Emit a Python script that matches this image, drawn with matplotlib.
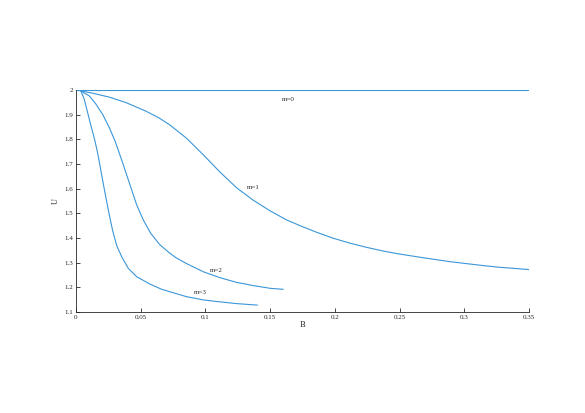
import matplotlib
matplotlib.use("Agg")
import matplotlib.pyplot as plt

# m=0 : plat
B0 = [0.0, 0.35]
U0 = [2.0, 2.0]

# m=1
B1 = [0.0, 0.0129, 0.0258, 0.0386, 0.0541, 0.0644, 0.0726, 0.0855, 0.0984, 0.1113,
      0.1242, 0.137, 0.15, 0.1628, 0.1731, 0.186, 0.1988, 0.2117, 0.2246, 0.2375,
      0.25, 0.2633, 0.2761, 0.289, 0.3019, 0.3148, 0.3277, 0.3406, 0.35]
U1 = [2.0, 1.987, 1.971, 1.949, 1.914, 1.886, 1.858, 1.804, 1.737, 1.667,
      1.603, 1.553, 1.510, 1.473, 1.450, 1.423, 1.399, 1.379, 1.362, 1.347,
      1.335, 1.324, 1.314, 1.304, 1.296, 1.288, 1.281, 1.276, 1.272]

# m=2
B2 = [0.004, 0.0103, 0.0155, 0.0206, 0.0258, 0.0304, 0.0353, 0.0392, 0.043, 0.0469,
      0.052, 0.0577, 0.0649, 0.0721, 0.0773, 0.0855, 0.0984, 0.1113, 0.1242, 0.137,
      0.15, 0.160]
U2 = [1.995, 1.976, 1.942, 1.901, 1.847, 1.790, 1.716, 1.655, 1.595, 1.534,
      1.473, 1.419, 1.372, 1.340, 1.320, 1.296, 1.263, 1.239, 1.220, 1.207,
      1.196, 1.192]

# m=3
B3 = [0.004, 0.0064, 0.009, 0.0116, 0.0145, 0.0165, 0.0183, 0.0200, 0.0218, 0.0237,
      0.0258, 0.0283, 0.0314, 0.0353, 0.0404, 0.0469, 0.0572, 0.0662, 0.0726, 0.0855,
      0.0984, 0.1113, 0.1242, 0.140]
U3 = [1.993, 1.962, 1.908, 1.854, 1.797, 1.750, 1.700, 1.651, 1.600, 1.548,
      1.492, 1.430, 1.370, 1.324, 1.277, 1.243, 1.213, 1.192, 1.182, 1.162,
      1.149, 1.141, 1.134, 1.128]

labels = ["m=0", "m=1", "m=2", "m=3"]
label_pos = [(0.1638, 1.963), (0.137, 1.604), (0.1087, 1.268), (0.0963, 1.180)]

xticks = [0, 0.05, 0.1, 0.15, 0.2, 0.25, 0.3, 0.35]
yticks = [1.1, 1.2, 1.3, 1.4, 1.5, 1.6, 1.7, 1.8, 1.9, 2.0]

plt.rcParams['font.family'] = ['Liberation Serif', 'DejaVu Serif']

fig = plt.figure(figsize=(5.85, 4.13), dpi=100)
ax = fig.add_axes([76 / 585, 1 - 312 / 413, 453 / 585, 222 / 413])

col = '#3a96d8'
for bx, uy in [(B0, U0), (B1, U1), (B2, U2), (B3, U3)]:
    ax.plot(bx, uy, color=col, lw=0.8)

for txt, (bx, uy) in zip(labels, label_pos):
    ax.text(bx, uy, txt, fontsize=5, ha='center', va='center', color='#262626')

ax.set_xlim(0, 0.35)
ax.set_ylim(1.1, 2.0)
ax.set_xticks(xticks)
ax.set_yticks(yticks)
ax.set_xticklabels(["%g" % v for v in xticks])
ax.set_yticklabels(["%g" % v for v in yticks])
ax.tick_params(direction='in', length=3, width=0.6, labelsize=5, colors='#262626', pad=2)

for s in ['top', 'right']:
    ax.spines[s].set_visible(False)
for s in ['left', 'bottom']:
    ax.spines[s].set_color('#262626')
    ax.spines[s].set_linewidth(0.6)

ax.set_xlabel("B", fontsize=6, color='#262626', labelpad=1)
ax.set_ylabel("U", fontsize=6, color='#262626', labelpad=3)

fig.savefig("out.png", dpi=100)
